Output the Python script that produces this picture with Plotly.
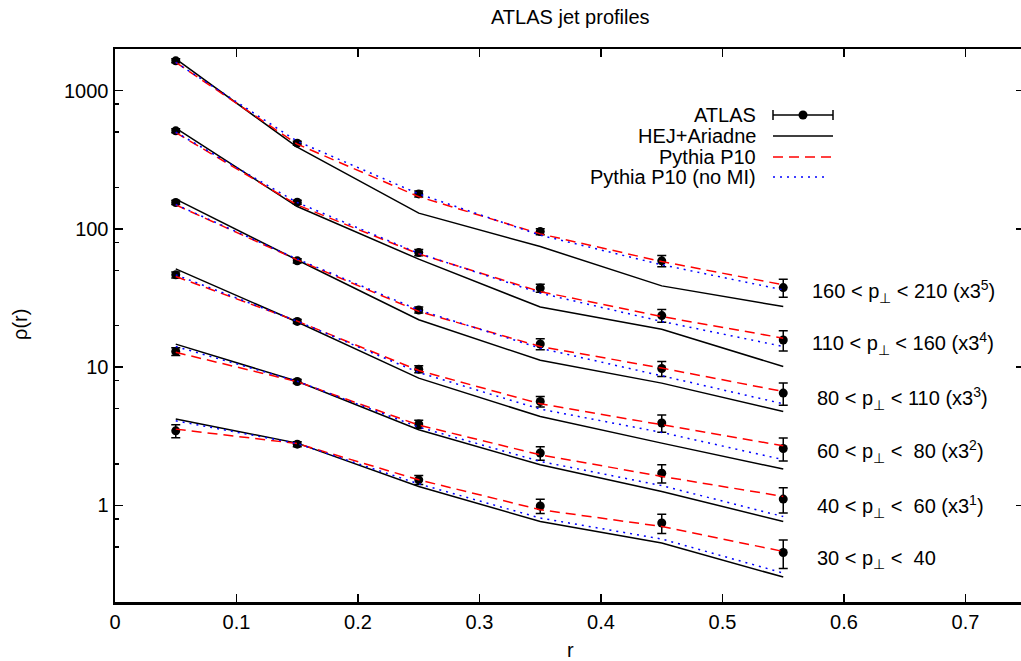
import math
import plotly.graph_objects as go

# ---------------- data (values as plotted, already scaled by 3^n) ----------------
r = [0.05, 0.15, 0.25, 0.35, 0.45, 0.55]

bin_labels = [
    "30 &lt; p<sub>⊥</sub> &lt;&nbsp; 40",
    "40 &lt; p<sub>⊥</sub> &lt;&nbsp; 60 (x3<sup>1</sup>)",
    "60 &lt; p<sub>⊥</sub> &lt;&nbsp; 80 (x3<sup>2</sup>)",
    "80 &lt; p<sub>⊥</sub> &lt; 110 (x3<sup>3</sup>)",
    "110 &lt; p<sub>⊥</sub> &lt; 160 (x3<sup>4</sup>)",
    "160 &lt; p<sub>⊥</sub> &lt; 210 (x3<sup>5</sup>)",
]

# ATLAS data
atlas_30_40 = [3.46, 2.77, 1.53, 0.99, 0.745, 0.456]
atlas_40_60 = [12.97, 7.87, 3.87, 2.39, 1.71, 1.11]
atlas_60_80 = [46.5, 21.4, 9.67, 5.64, 3.94, 2.58]
atlas_80_110 = [155, 58.7, 25.9, 14.7, 9.77, 6.49]
atlas_110_160 = [512, 156, 67.4, 37.3, 23.6, 15.7]
atlas_160_210 = [1643, 417, 179, 95.6, 58.7, 37.6]

err_30_40 = [0.37, 0.115, 0.115, 0.115, 0.118, 0.106]
err_40_60 = [0.86, 0.26, 0.26, 0.27, 0.26, 0.23]
err_60_80 = [2.3, 0.7, 0.56, 0.5, 0.56, 0.49]
err_80_110 = [5.2, 2.0, 1.3, 1.35, 1.2, 1.2]
err_110_160 = [17, 5.2, 3.4, 2.5, 2.5, 2.6]
err_160_210 = [55, 14, 9, 4.8, 5.4, 5.6]

# HEJ+Ariadne
hej_30_40 = [4.21, 2.82, 1.37, 0.765, 0.534, 0.303]
hej_40_60 = [14.67, 7.9, 3.52, 1.97, 1.26, 0.765]
hej_60_80 = [51.4, 21.2, 8.32, 4.39, 2.82, 1.83]
hej_80_110 = [164, 59.5, 22.0, 11.2, 7.66, 4.77]
hej_110_160 = [535, 145, 60.4, 27.2, 18.8, 10.1]
hej_160_210 = [1694, 390, 130, 74.5, 38.7, 27.4]

# Pythia P10
p10_30_40 = [3.56, 2.80, 1.53, 0.93, 0.704, 0.464]
p10_40_60 = [12.8, 7.85, 3.81, 2.32, 1.62, 1.16]
p10_60_80 = [45.2, 21.5, 9.45, 5.43, 3.83, 2.70]
p10_80_110 = [149, 59.7, 25.3, 14.1, 9.84, 6.66]
p10_110_160 = [497, 149, 65.9, 35.2, 23.2, 16.2]
p10_160_210 = [1600, 410, 171, 92, 58, 39.4]

# Pythia P10 (no MI)
nomi_30_40 = [4.09, 2.80, 1.43, 0.81, 0.571, 0.324]
nomi_40_60 = [14.1, 7.9, 3.68, 2.08, 1.39, 0.83]
nomi_60_80 = [46.5, 21.5, 9.14, 4.97, 3.37, 2.14]
nomi_80_110 = [150, 60.5, 25.9, 13.7, 8.65, 5.43]
nomi_110_160 = [500, 155, 66.5, 34.3, 21.4, 14.1]
nomi_160_210 = [1600, 430, 179, 90, 55, 36.2]

x_ticks = [0, 0.1, 0.2, 0.3, 0.4, 0.5, 0.6, 0.7]
x_ticktext = ["0", "0.1", "0.2", "0.3", "0.4", "0.5", "0.6", "0.7"]
y_ticks = [1, 10, 100, 1000]
y_ticktext = ["1", "10", "100", "1000"]
y_minor = [0.5, 0.8, 2, 5, 8, 20, 50, 80, 200, 500, 800]

atlas = [atlas_30_40, atlas_40_60, atlas_60_80, atlas_80_110, atlas_110_160, atlas_160_210]
errs = [err_30_40, err_40_60, err_60_80, err_80_110, err_110_160, err_160_210]
hej = [hej_30_40, hej_40_60, hej_60_80, hej_80_110, hej_110_160, hej_160_210]
p10 = [p10_30_40, p10_40_60, p10_60_80, p10_80_110, p10_110_160, p10_160_210]
nomi = [nomi_30_40, nomi_40_60, nomi_60_80, nomi_80_110, nomi_110_160, nomi_160_210]

# ---------------- layout geometry ----------------
W, H = 1021, 661
ML, MR, MT, MB = 115, 0, 49, 59
PW = W - ML - MR
PH = H - MT - MB
XRANGE = [0, PW / 1215.0]
YRANGE = [math.log10(0.2), math.log10(2000)]
FONT = "Liberation Sans, Arial, Helvetica, sans-serif"


def px(xp):
    return (xp - ML) / PW


def py(yp):
    return (H - MB - yp) / PH


fig = go.Figure()

for i in range(6):
    fig.add_trace(go.Scatter(
        x=r, y=atlas[i], mode="markers", name="ATLAS", showlegend=False,
        marker=dict(color="black", size=9),
        error_y=dict(type="data", array=errs[i], symmetric=True,
                     color="black", thickness=1.5, width=4.5),
    ))
    fig.add_trace(go.Scatter(
        x=r, y=hej[i], mode="lines", name="HEJ+Ariadne", showlegend=False,
        line=dict(color="black", width=1.5),
    ))
    fig.add_trace(go.Scatter(
        x=r, y=p10[i], mode="lines", name="Pythia P10", showlegend=False,
        line=dict(color="#ff0000", width=1.5, dash="10px,6px"),
    ))
    fig.add_trace(go.Scatter(
        x=r, y=nomi[i], mode="lines", name="Pythia P10 (no MI)", showlegend=False,
        line=dict(color="#0000ff", width=1.5, dash="2px,5px"),
    ))

# dummy trace for the right-hand tick axis
fig.add_trace(go.Scatter(x=[None], y=[None], yaxis="y2", showlegend=False,
                         hoverinfo="skip"))

annotations = []
shapes = []

# title and axis titles
annotations.append(dict(text="ATLAS jet profiles", xref="paper", yref="paper",
                        x=px(570.5), y=py(17), xanchor="center", yanchor="middle",
                        showarrow=False, font=dict(size=20, color="black", family=FONT)))
annotations.append(dict(text="ρ(r)", xref="paper", yref="paper",
                        x=px(20), y=py(325), xanchor="center", yanchor="middle",
                        textangle=-90, showarrow=False,
                        font=dict(size=20, color="black", family=FONT)))
annotations.append(dict(text="r", xref="paper", yref="paper",
                        x=px(570.5), y=py(650), xanchor="center", yanchor="middle",
                        showarrow=False, font=dict(size=20, color="black", family=FONT)))

# bin labels
label_x_px = [815, 815, 815, 815, 810, 810]
label_y_px = [559.3, 506, 451, 398.3, 343.3, 291.7]
for i in range(6):
    annotations.append(dict(text=bin_labels[i], xref="paper", yref="paper",
                            x=px(label_x_px[i]), y=py(label_y_px[i]),
                            xanchor="left", yanchor="middle", showarrow=False,
                            font=dict(size=20, color="black", family=FONT)))

# manual gnuplot-style key (text left, sample right)
key_names = ["ATLAS", "HEJ+Ariadne", "Pythia P10", "Pythia P10 (no MI)"]
key_y = [115, 136, 157, 177]
for name, yk in zip(key_names, key_y):
    annotations.append(dict(text=name, xref="paper", yref="paper",
                            x=px(758), y=py(yk), xanchor="right", yanchor="middle",
                            showarrow=False,
                            font=dict(size=20, color="black", family=FONT)))

x0s, x1s = 773, 833
# ATLAS sample: horizontal bar with caps and dot
shapes.append(dict(type="line", xref="paper", yref="paper",
                   x0=px(x0s), x1=px(x1s), y0=py(key_y[0]), y1=py(key_y[0]),
                   line=dict(color="black", width=1.5)))
for xc in (x0s, x1s):
    shapes.append(dict(type="line", xref="paper", yref="paper",
                       x0=px(xc), x1=px(xc), y0=py(key_y[0] - 5), y1=py(key_y[0] + 5),
                       line=dict(color="black", width=1.5)))
shapes.append(dict(type="circle", xref="paper", yref="paper",
                   x0=px(803 - 4.5), x1=px(803 + 4.5),
                   y0=py(key_y[0] - 4.5), y1=py(key_y[0] + 4.5),
                   fillcolor="black", line=dict(color="black", width=0)))
shapes.append(dict(type="line", xref="paper", yref="paper",
                   x0=px(x0s), x1=px(x1s), y0=py(key_y[1]), y1=py(key_y[1]),
                   line=dict(color="black", width=1.5)))
shapes.append(dict(type="line", xref="paper", yref="paper",
                   x0=px(x0s), x1=px(x1s), y0=py(key_y[2]), y1=py(key_y[2]),
                   line=dict(color="#ff0000", width=1.5, dash="10px,6px")))
shapes.append(dict(type="line", xref="paper", yref="paper",
                   x0=px(x0s), x1=px(x1s - 4), y0=py(key_y[3]), y1=py(key_y[3]),
                   line=dict(color="#0000ff", width=1.5, dash="2px,5px")))

fig.update_layout(
    width=W, height=H,
    margin=dict(l=ML, r=MR, t=MT, b=MB, pad=0),
    paper_bgcolor="white", plot_bgcolor="white",
    showlegend=False,
    hovermode=False,
    font=dict(family=FONT, size=20, color="black"),
    xaxis=dict(range=XRANGE, tickvals=x_ticks, ticktext=x_ticktext,
               ticks="inside", ticklen=8, tickwidth=1.5, tickcolor="black",
               showline=True, linewidth=2.5, linecolor="black", mirror="ticks",
               showgrid=False, zeroline=False,
               tickfont=dict(size=20, family=FONT, color="black")),
    yaxis=dict(type="log", range=YRANGE, tickvals=y_ticks, ticktext=y_ticktext,
               ticks="inside", ticklen=8, tickwidth=1.5, tickcolor="black",
               showline=True, linewidth=2.5, linecolor="black", mirror=False,
               showgrid=False, zeroline=False,
               minor=dict(tickvals=y_minor, ticks="inside", ticklen=4,
                          tickwidth=1.5, tickcolor="black", showgrid=False),
               tickfont=dict(size=20, family=FONT, color="black")),
    yaxis2=dict(type="log", range=YRANGE, overlaying="y", side="right",
                tickvals=y_ticks, ticks="inside", ticklen=5, tickwidth=1.5,
                tickcolor="black", showticklabels=False, showgrid=False,
                zeroline=False, showline=False),
    annotations=annotations,
    shapes=shapes,
)

fig.write_html(
    "out.html",
    config={"displayModeBar": False, "staticPlot": True},
    post_script="document.body.style.margin='0';document.body.style.overflow='hidden';",
)
